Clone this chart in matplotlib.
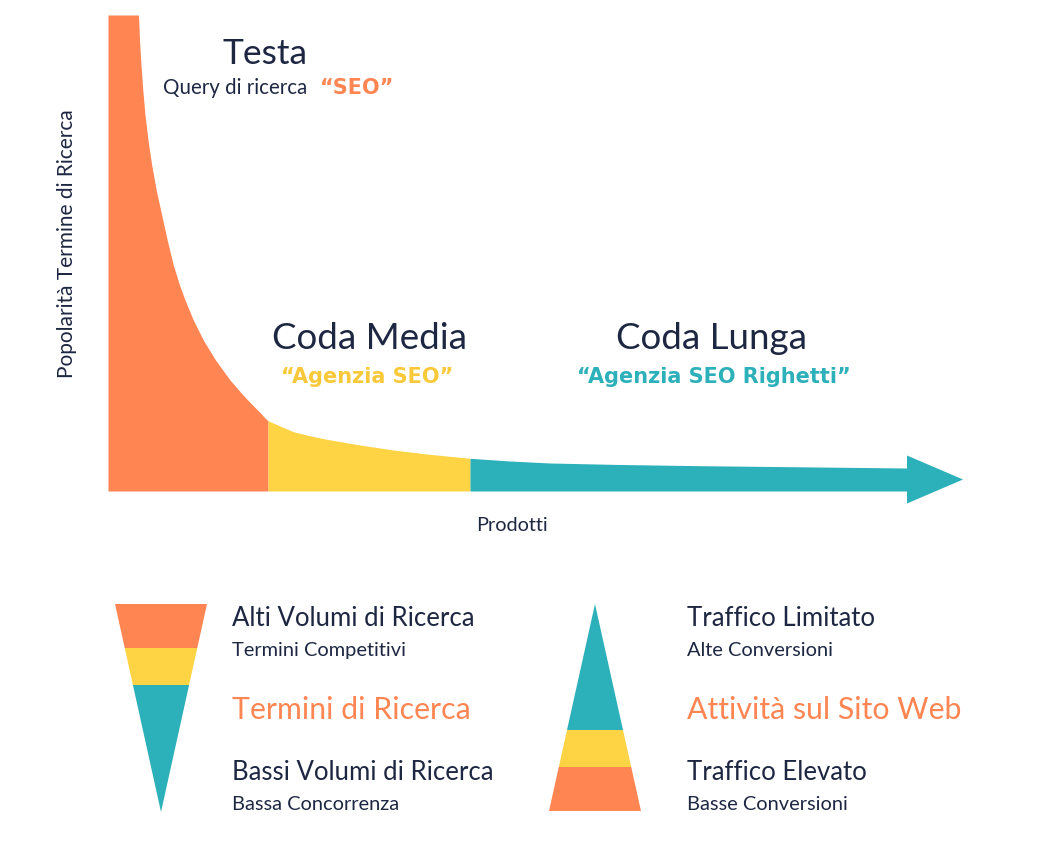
"""Grafico della coda lunga: popolarità dei termini di ricerca per prodotto."""

import numpy as np
import matplotlib.pyplot as plt
from matplotlib import font_manager

# Dati (prodotti in ordine di rango, popolarità relativa)
prodotti = [0, 30.5, 31.5, 33, 34.8, 37, 40, 43.7, 48.2, 53.7, 59.2, 65.3, 71.5, 77,
            85.3, 95.3, 107.5, 122, 135, 144.5, 152.5, 157, 160,
            172, 185.3, 202, 218.7, 252, 285.3, 318.7, 362,
            402, 442, 512, 592, 692, 799]
popolarita = [476, 476, 451, 426, 401, 376, 351, 326, 301, 276, 251, 226, 206, 191,
              171, 151, 131, 111, 96, 86, 78, 73, 70.3,
              65, 59.3, 55.2, 51.7, 46, 41, 37, 32.7,
              30, 28, 26.5, 25.3, 24.2, 23]

# Confini delle tre zone: testa, coda media, coda lunga
confini = [0, 160, 362, 799]
nomi_zone = ["Testa", "Coda Media", "Coda Lunga"]
esempi = ["“SEO”", "“Agenzia SEO”", "“Agenzia SEO Righetti”"]

# Spessore delle fasce nei due imbuti (dall'alto per il primo)
fasce = [44, 37, 127]

testi_sinistra = ["Alti Volumi di Ricerca", "Termini Competitivi", "Termini di Ricerca",
                  "Bassi Volumi di Ricerca", "Bassa Concorrenza"]
testi_destra = ["Traffico Limitato", "Alte Conversioni", "Attività sul Sito Web",
                "Traffico Elevato", "Basse Conversioni"]

ARANCIO = "#FF8552"
GIALLO = "#FED344"
TEAL = "#2CB0BA"
SCURO = "#1E2742"
colori = [ARANCIO, GIALLO, TEAL]

W, H = 1057, 841
nomi_font = {f.name for f in font_manager.fontManager.ttflist}
FONT = "Lato" if "Lato" in nomi_font else "DejaVu Sans"
BOLD = "DejaVu Sans"
plt.rcParams['font.family'] = [FONT, 'DejaVu Sans']


def px(x, y):
    """ Converte pixel (origine in alto a sinistra) in coordinate figura. """
    return x / W, 1 - y / H


fig = plt.figure(figsize=(W / 100, H / 100), dpi=100)

# --- Grafico principale -------------------------------------------------
x0, y0 = px(108, 491)
x1, y1 = px(963, 15)
ax = fig.add_axes([x0, y0, x1 - x0, y1 - y0])
ax.set_xlim(0, 855)
ax.set_ylim(0, 476)
ax.axis('off')

xs = np.array(prodotti, dtype=float)
ys = np.array(popolarita, dtype=float)
for i, col in enumerate(colori):
    m = (xs >= confini[i]) & (xs <= confini[i + 1])
    ax.fill_between(xs[m], 0, ys[m], color=col, linewidth=0, clip_on=False)

# punta della freccia alla fine della coda
lung_punta, larg_punta = 56, 48
fine = prodotti[-1]
centro = popolarita[-1] / 2
ax.fill([fine, fine + lung_punta, fine],
        [centro + larg_punta / 2, centro, centro - larg_punta / 2],
        color=TEAL, linewidth=0, clip_on=False)

# titoli delle zone
fig.text(*px(265, 64), nomi_zone[0], fontsize=25.5, color=SCURO, ha='center', va='baseline')
fig.text(*px(163, 94), "Query di ricerca", fontsize=14.8, color=SCURO, ha='left', va='baseline')
fig.text(*px(320, 94), esempi[0], fontsize=15, color=ARANCIO, fontweight='bold',
         family=BOLD, ha='left', va='baseline')

fig.text(*px(370, 349), nomi_zone[1], fontsize=26.5, color=SCURO, ha='center', va='baseline')
fig.text(*px(367, 383), esempi[1], fontsize=15, color="#F9C93A", fontweight='bold',
         family=BOLD, ha='center', va='baseline')

fig.text(*px(712, 349), nomi_zone[2], fontsize=26.5, color=SCURO, ha='center', va='baseline')
fig.text(*px(714, 383), esempi[2], fontsize=15, color=TEAL, fontweight='bold',
         family=BOLD, ha='center', va='baseline')

fig.text(*px(512, 531), "Prodotti", fontsize=14.3, color=SCURO, ha='center', va='baseline')
fig.text(*px(67, 244), "Popolarità Termine di Ricerca", fontsize=15, color=SCURO,
         rotation=90, ha='center', va='center')

# --- Imbuti in basso ------------------------------------------------------
ax2 = fig.add_axes([0, 0, 1, 1], zorder=-1)
ax2.set_xlim(0, W)
ax2.set_ylim(H, 0)
ax2.axis('off')


def triangolo(ax, cx, y_base, y_punta, mezza_base, fasce, colori):
    """ Disegna un triangolo diviso in fasce orizzontali partendo dalla base. """
    altezza = y_punta - y_base
    y = y_base
    for spess, col in zip(fasce, colori):
        y_next = y + np.sign(altezza) * spess
        w_a = mezza_base * (1 - (y - y_base) / altezza)
        w_b = mezza_base * (1 - (y_next - y_base) / altezza)
        ax.fill([cx - w_a, cx + w_a, cx + w_b, cx - w_b], [y, y, y_next, y_next],
                color=col, linewidth=0)
        y = y_next


# imbuto rovesciato: base in alto
triangolo(ax2, 161, 604, 812, 46, fasce, colori)
# piramide: base in basso
triangolo(ax2, 595, 811, 604, 46, fasce, colori)

baselines = [626, 656, 719, 780, 810]
stili = [(18.5, SCURO), (14.4, SCURO), (21.8, ARANCIO), (18.5, SCURO), (14.4, SCURO)]
for xt, testi in [(232, testi_sinistra), (687, testi_destra)]:
    for t, yb, (fs, col) in zip(testi, baselines, stili):
        fig.text(*px(xt, yb), t, fontsize=fs, color=col, ha='left', va='baseline')

fig.savefig("out.png", dpi=100, facecolor='white')
